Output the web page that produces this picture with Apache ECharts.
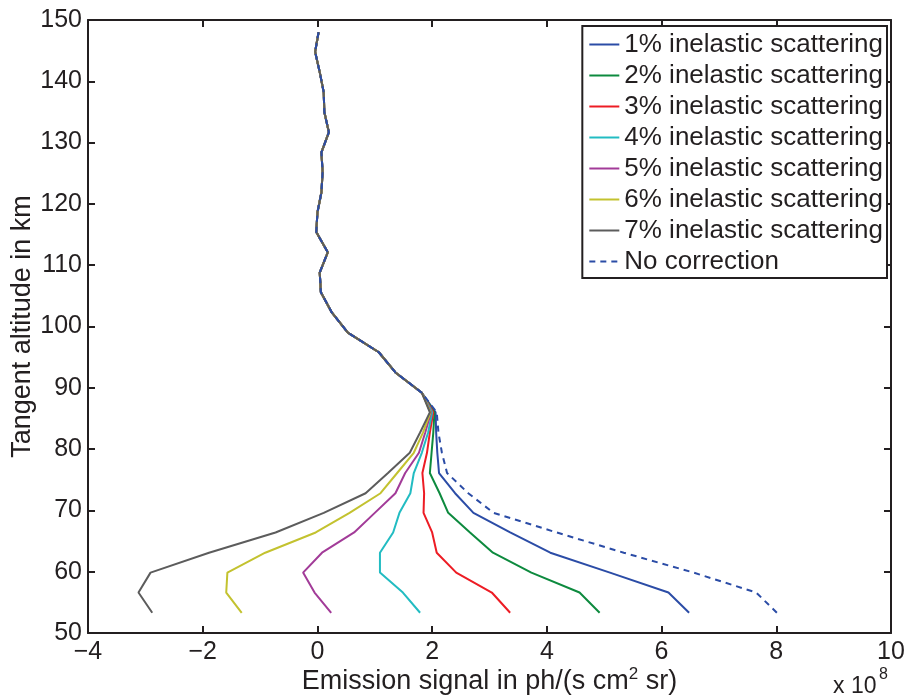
<!DOCTYPE html>
<html><head><meta charset="utf-8">
<script src="https://cdn.jsdelivr.net/npm/echarts@6/dist/echarts.min.js"></script>
<style>html,body{margin:0;padding:0;background:#fff}#c{width:909px;height:698px}</style>
</head><body><div id="c"></div>
<script>
// Tangent altitudes (km), bottom to top
const altitudes = [53.3, 56.6, 59.85, 63.1, 66.4, 69.6, 72.8, 76.1, 79.4, 82.7, 86.0,
  89.2, 92.5, 95.8, 99.0, 102.3, 105.6, 108.8, 112.1, 115.4, 118.6, 121.9, 125.2, 128.4,
  131.7, 135.0, 138.2, 141.5, 144.8, 148.0];
// Shared upper-profile signal (x 1e8) from 89.2 km upward
const upperSignal = [1.82, 1.36, 1.07, 0.53, 0.25, 0.06, 0.04, 0.18, -0.02, 0.00, 0.07,
  0.09, 0.07, 0.20, 0.12, 0.11, 0.04, -0.04, 0.02];
// Lower-profile signal (x 1e8), 53.3 .. 86.0 km
const s1 = [6.48, 6.12, 5.10, 4.06, 3.36, 2.72, 2.40, 2.12, 2.09, 2.07, 2.06];
const s2 = [4.92, 4.57, 3.73, 3.06, 2.66, 2.28, 2.13, 1.96, 1.99, 2.02, 2.04];
const s3 = [3.36, 3.04, 2.42, 2.08, 2.00, 1.85, 1.86, 1.83, 1.91, 1.96, 2.02];
const s4 = [1.79, 1.49, 1.09, 1.09, 1.32, 1.43, 1.62, 1.68, 1.82, 1.93, 2.00];
const s5 = [0.24, -0.05, -0.25, 0.08, 0.64, 1.00, 1.36, 1.53, 1.77, 1.88, 1.98];
const s6 = [-1.32, -1.59, -1.57, -0.91, -0.03, 0.56, 1.10, 1.39, 1.68, 1.84, 1.97];
const s7 = [-2.88, -3.12, -2.91, -1.89, -0.73, 0.11, 0.84, 1.23, 1.61, 1.79, 1.96];
const sNone = [8.01, 7.65, 6.56, 5.34, 4.17, 3.07, 2.63, 2.26, 2.17, 2.11, 2.08];

const seriesNames = ['1% inelastic scattering', '2% inelastic scattering', '3% inelastic scattering',
  '4% inelastic scattering', '5% inelastic scattering', '6% inelastic scattering',
  '7% inelastic scattering', 'No correction'];
const seriesLower = [s1, s2, s3, s4, s5, s6, s7, sNone];
const colors = ['#2b4ca6', '#0d8a3e', '#ed1c24', '#22bcc2', '#a23b98', '#c3c22f', '#5c5c5c', '#2b4ca6'];

const font = 'Liberation Sans, Arial, Helvetica, sans-serif';
const ink = '#231f20';
const minusFmt = v => String(v).replace('-', '\u2212');

const series = seriesNames.map((name, i) => ({
  name: name,
  type: 'line',
  symbol: 'none',
  data: seriesLower[i].concat(upperSignal).map((x, k) => [x, altitudes[k]]),
  lineStyle: { color: colors[i], width: 2, type: i === 7 ? [6, 5] : 'solid' },
  itemStyle: { color: colors[i] },
  z: 2 + i
}));

const axisCommon = {
  axisLine: { onZero: false, lineStyle: { color: ink, width: 2 } },
  axisTick: { inside: true, length: 7, lineStyle: { color: ink, width: 2 } },
  splitLine: { show: false }
};

const chart = echarts.init(document.getElementById('c'), null, { renderer: 'canvas' });
chart.setOption({
  animation: false,
  backgroundColor: '#fff',
  grid: { left: 88, right: 18, top: 20, bottom: 65, containLabel: false, outerBoundsMode: 'none' },
  xAxis: [Object.assign({
    type: 'value', min: -4, max: 10, interval: 2,
    name: 'Emission signal in ph/(s cm{sup|2} sr)', nameLocation: 'middle', nameGap: 33,
    nameMoveOverlap: false,
    nameTextStyle: { fontFamily: font, fontSize: 27, color: ink,
      rich: { sup: { fontFamily: font, fontSize: 17, color: ink, verticalAlign: 'top', padding: [0, 0, 14, 0] } } },
    axisLabel: { fontFamily: font, fontSize: 25, color: ink, margin: 7, formatter: minusFmt }
  }, axisCommon), Object.assign({
    type: 'value', min: -4, max: 10, interval: 2, position: 'top',
    axisLabel: { show: false }
  }, axisCommon)],
  yAxis: [Object.assign({
    type: 'value', min: 50, max: 150, interval: 10,
    name: 'Tangent altitude in km', nameLocation: 'middle', nameGap: 52,
    nameMoveOverlap: false,
    nameTextStyle: { fontFamily: font, fontSize: 27, color: ink },
    axisLabel: { fontFamily: font, fontSize: 25, color: ink, margin: 6 }
  }, axisCommon), Object.assign({
    type: 'value', min: 50, max: 150, interval: 10, position: 'right',
    axisLabel: { show: false }
  }, axisCommon)],
  legend: {
    orient: 'vertical', right: 22, top: 26,
    backgroundColor: '#fff', borderColor: ink, borderWidth: 2,
    padding: [3, 4, 1, 6], itemGap: 0, itemWidth: 30, itemHeight: 14,
    itemStyle: { opacity: 0 },
    textStyle: { fontFamily: font, fontSize: 26, color: ink, lineHeight: 31 },
    data: seriesNames
  },
  graphic: [{
    type: 'text', left: 833, top: 675,
    style: { text: 'x 10', font: '23px ' + font, fill: ink }
  }, {
    type: 'text', left: 879, top: 667,
    style: { text: '8', font: '16px ' + font, fill: ink }
  }],
  series: series
});
</script></body></html>
